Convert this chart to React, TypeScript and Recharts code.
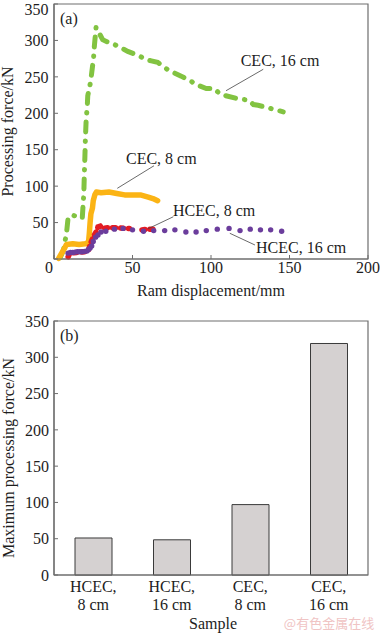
import React from "react"
import {
  ComposedChart,
  Line,
  Scatter,
  XAxis,
  YAxis,
  ReferenceArea,
  ReferenceLine,
  BarChart,
  Bar,
} from "recharts"

const SERIF = "'Liberation Serif', 'Times New Roman', serif"
const INK = "#1d1d1d"
const FRAME = "#6e6e6e"

const GREEN = "#82c341"
const ORANGE = "#fbb415"
const RED = "#e31b23"
const PURPLE = "#6b3d9c"

// (a) processing force vs ram displacement, [mm, kN]
const cec16cm: [number, number][] = [
  [4, 2], [6, 12], [8, 36], [9, 57], [12, 60], [15, 58], [18, 56], [18.7, 80],
  [19, 90], [19.3, 115], [19.7, 142], [20, 165], [20.5, 192], [21.2, 210],
  [21.5, 224], [23.3, 243], [25.2, 276], [25.7, 292], [26.8, 318], [31, 301],
  [34, 298], [38, 295], [47, 285], [55, 278], [58, 274], [62, 272], [66, 270],
  [71, 262], [74, 258], [81, 251], [88, 243], [91, 239], [97, 234], [102, 234],
  [106, 226], [117, 220], [124, 218], [127, 212], [130, 211], [139, 206], [146, 202],
]

const cec8cm: [number, number][] = [
  [3, 1], [6, 12], [8, 20], [12, 21], [16, 20], [20, 21], [22, 23], [22.5, 35],
  [23, 50], [23.5, 62], [24.5, 70], [25, 80], [26, 88], [27, 92], [30, 91],
  [35, 92], [40, 90], [45, 88], [50, 88], [55, 88], [60, 85], [63, 83], [66, 80],
]

const hcec8cm: [number, number | null][] = [
  [9, 3], [10, 8], [15, 9], [20, 10], [22, 12], [23, 20], [25, 30], [27, 38],
  [28, 44], [29.5, 45], [31, 42], [35, 43], [40, 43], [45, 42], [48, 42],
  [52, null], [56, 40], [60, 41], [66, 41],
]

const hcec16cm: [number, number][] = [
  [9, 8], [10.5, 9], [12, 9], [13.5, 9.5], [15, 10], [16.5, 10], [18, 10],
  [19.5, 10.5], [21, 11], [22, 13], [23, 15], [24, 18], [25, 24], [26.5, 30],
  [28, 33], [30, 37], [33, 38], [38.5, 41], [44, 42], [50, 40], [57, 38],
  [63.5, 39], [70.5, 39], [77, 40], [84, 37], [90.5, 37], [97, 39], [104, 41],
  [111.5, 42], [118.5, 39], [125, 41], [131.5, 40], [138, 40], [145, 38],
]

const forceTicks = [0, 50, 100, 150, 200, 250, 300, 350]
const dispTicks = [0, 50, 100, 150, 200]

// leader lines from the labels to their curves
const leaders = [
  [{ x: 133.3, y: 260.4 }, { x: 109.6, y: 231 }],
  [{ x: 63.7, y: 128 }, { x: 40.3, y: 97 }],
  [{ x: 76, y: 58 }, { x: 60, y: 41.6 }],
  [{ x: 128, y: 19.2 }, { x: 112, y: 35.3 }],
]

// (b) maximum processing force per sample
const sampleNames = [
  ["HCEC,", "8 cm"],
  ["HCEC,", "16 cm"],
  ["CEC,", "8 cm"],
  ["CEC,", "16 cm"],
]
const maxForce = [51, 48.5, 97, 319]

const toPoints = (pts: [number, number | null][]) => pts.map(([x, y]) => ({ x, y }))

const tickStyle = { fill: INK, fontSize: 16, fontFamily: SERIF }

const DispTick = ({ x, y, payload }: any) => (
  <text
    x={payload.value === 0 ? x - 5 : x}
    y={y}
    dy={11.5}
    textAnchor="middle"
    fill={INK}
    fontSize={16}
    fontFamily={SERIF}
  >
    {payload.value}
  </text>
)

const SampleTick = ({ x, y, payload }: any) => {
  const [a, b] = payload.value.split("|")
  return (
    <text x={x} y={y} textAnchor="middle" fill={INK} fontSize={16} fontFamily={SERIF}>
      <tspan x={x} dy={17.2}>{a}</tspan>
      <tspan x={x} dy={17.3}>{b}</tspan>
    </text>
  )
}

function ForceCurves() {
  return (
    <ComposedChart width={380} height={300} margin={{ top: 4, right: 12, bottom: 0, left: 0 }}>
      <XAxis
        type="number"
        dataKey="x"
        domain={[0, 200]}
        ticks={dispTicks}
        height={41}
        tickSize={-4}
        tickMargin={6}
        tick={<DispTick />}
        stroke={FRAME}
        axisLine={{ stroke: FRAME, strokeWidth: 1.2 }}
      />
      <YAxis
        type="number"
        dataKey="y"
        domain={[0, 350]}
        ticks={forceTicks}
        width={54}
        tickSize={-4}
        tickMargin={9.5}
        tick={tickStyle}
        tickFormatter={(v: number) => (v === 0 ? "" : String(v))}
        stroke={FRAME}
        axisLine={{ stroke: FRAME, strokeWidth: 1.2 }}
      />
      <ReferenceArea x1={0} x2={200} y1={0} y2={350} fill="none" stroke={FRAME} strokeWidth={1.2} />
      <Line
        data={toPoints(cec16cm)}
        dataKey="y"
        stroke={GREEN}
        strokeWidth={5}
        strokeDasharray="10 9 0.5 9"
        strokeLinecap="round"
        dot={false}
        isAnimationActive={false}
      />
      <Line
        data={toPoints(cec8cm)}
        dataKey="y"
        stroke={ORANGE}
        strokeWidth={5.5}
        strokeLinecap="round"
        strokeLinejoin="round"
        dot={false}
        isAnimationActive={false}
      />
      <Line
        data={toPoints(hcec8cm)}
        dataKey="y"
        stroke={RED}
        strokeWidth={5.5}
        strokeDasharray="3 5"
        strokeLinecap="round"
        dot={false}
        isAnimationActive={false}
      />
      <Scatter
        data={toPoints(hcec16cm)}
        dataKey="y"
        fill={PURPLE}
        shape={(p: any) => <circle cx={p.cx} cy={p.cy} r={2.7} fill={PURPLE} />}
        isAnimationActive={false}
      />
      {leaders.map((seg, i) => (
        <ReferenceLine key={i} segment={seg} stroke="#444" strokeWidth={0.8} ifOverflow="visible" />
      ))}
    </ComposedChart>
  )
}

function MaxForceBars() {
  const data = sampleNames.map((n, i) => ({ name: n.join("|"), force: maxForce[i] }))
  return (
    <BarChart width={380} height={333} data={data} margin={{ top: 21, right: 12, bottom: 0, left: 0 }}>
      <XAxis
        dataKey="name"
        height={58}
        tickLine={false}
        tickSize={0}
        tickMargin={0}
        tick={<SampleTick />}
        interval={0}
        axisLine={{ stroke: FRAME, strokeWidth: 1.2 }}
      />
      <YAxis
        domain={[0, 350]}
        ticks={forceTicks}
        width={54}
        tickSize={-4}
        tickMargin={9}
        tick={tickStyle}
        stroke={FRAME}
        axisLine={{ stroke: FRAME, strokeWidth: 1.2 }}
      />
      <ReferenceArea y1={0} y2={350} fill="none" stroke={FRAME} strokeWidth={1.2} />
      <Bar dataKey="force" barSize={37} fill="#d5d1d1" stroke="#3a3a3a" strokeWidth={1} isAnimationActive={false} />
    </BarChart>
  )
}

export default function App() {
  const txt = { fill: INK, fontSize: 16, fontFamily: SERIF }
  return (
    <div style={{ position: "absolute", left: 0, top: 0, width: 380, height: 633, background: "#fff" }}>
      <div style={{ position: "absolute", left: 0, top: 0 }}>
        <ForceCurves />
      </div>
      <div style={{ position: "absolute", left: 0, top: 300 }}>
        <MaxForceBars />
      </div>
      <svg width={380} height={633} style={{ position: "absolute", left: 0, top: 0, pointerEvents: "none" }}>
        <text x={60} y={23.5} {...txt}>(a)</text>
        <text transform="translate(13,131.5) rotate(-90)" textAnchor="middle" {...txt}>Processing force/kN</text>
        <text x={211} y={295.5} textAnchor="middle" {...txt}>Ram displacement/mm</text>
        <text x={240.7} y={65.5} {...txt}>CEC, 16 cm</text>
        <text x={126} y={163.5} {...txt}>CEC, 8 cm</text>
        <text x={173} y={216.2} {...txt}>HCEC, 8 cm</text>
        <text x={256} y={252.8} {...txt}>HCEC, 16 cm</text>

        <text x={60} y={340.5} {...txt}>(b)</text>
        <text transform="translate(13.5,458) rotate(-90)" textAnchor="middle" {...txt}>Maximum processing force/kN</text>
        <text x={213} y={628.5} textAnchor="middle" {...txt}>Sample</text>
        <text x={329} y={627.5} textAnchor="middle" fill="#f0c4c4" fontSize={13} fontFamily="'Noto Sans CJK SC', sans-serif">
          @有色金属在线
        </text>
      </svg>
    </div>
  )
}
